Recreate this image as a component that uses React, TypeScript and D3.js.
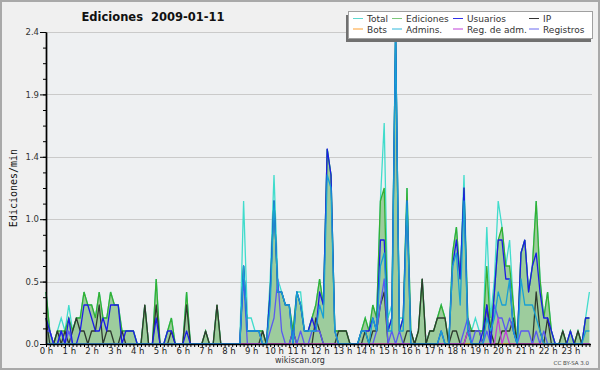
import { useEffect, useRef } from "react";
import * as d3 from "d3";

// 10-minute bins, edits per minute (144 bins = 24 h)
const total = [
  0.4, 0.1, 0, 0.1, 0.2, 0.1,
  0.3, 0.1, 0.2, 0.2, 0.4, 0.3,
  0.3, 0.2, 0.4, 0.2, 0.2, 0.4,
  0.3, 0.3, 0.1, 0.1, 0.1, 0.1,
  0, 0, 0.3, 0, 0, 0.5,
  0, 0, 0.1, 0.2, 0, 0,
  0, 0.4, 0, 0, 0, 0,
  0.1, 0, 0, 0.3, 0, 0,
  0, 0, 0, 0, 1.1, 0.2,
  0.2, 0.1, 0.1, 0.1, 0, 0.5,
  1.3, 0.5, 0.4, 0.3, 0.3, 0.1,
  0.4, 0.4, 0.1, 0.1, 0.2, 0.3,
  0.5, 0.3, 1.5, 1.3, 0.1, 0.1,
  0.1, 0.1, 0, 0, 0, 0.1,
  0.2, 0.1, 0.3, 0.2, 1.1, 1.7,
  0.2, 0.3, 2.4, 0.2, 0.2, 1.2,
  0.1, 0, 0.1, 0.5, 0, 0.1,
  0.1, 0.2, 0.3, 0.2, 0, 0.7,
  0.9, 0.5, 1.3, 0.2, 0.1, 0.2,
  0.1, 0.1, 0.9, 0.2, 0.5, 1.1,
  0.9, 0.6, 0.8, 0.3, 0, 0.7,
  0.8, 0.4, 0.6, 1.1, 0.5, 0.2,
  0.4, 0.1, 0, 0, 0.1, 0,
  0.1, 0, 0.1, 0, 0.2, 0.4,
];

const ediciones = [
  0.4, 0.1, 0, 0.1, 0.1, 0.1,
  0.2, 0.1, 0.2, 0.2, 0.4, 0.3,
  0.3, 0.2, 0.4, 0.2, 0.2, 0.4,
  0.3, 0.3, 0.1, 0.1, 0.1, 0.1,
  0, 0, 0.3, 0, 0, 0.5,
  0, 0, 0.1, 0.2, 0, 0,
  0, 0.4, 0, 0, 0, 0,
  0.1, 0, 0, 0.3, 0, 0,
  0, 0, 0, 0, 0.6, 0.1,
  0.1, 0.1, 0.1, 0.1, 0, 0.4,
  1.1, 0.4, 0.4, 0.3, 0.3, 0.1,
  0.4, 0.3, 0.1, 0.1, 0.2, 0.3,
  0.5, 0.3, 1.5, 1.3, 0.1, 0.1,
  0.1, 0.1, 0, 0, 0, 0.1,
  0.2, 0.1, 0.3, 0.2, 1.1, 1.2,
  0.1, 0.2, 2.4, 0.1, 0.2, 1.2,
  0.1, 0, 0.1, 0.5, 0, 0.1,
  0.1, 0.2, 0.3, 0.2, 0, 0.7,
  0.9, 0.5, 1.2, 0.2, 0.1, 0.1,
  0.1, 0.1, 0.6, 0.1, 0.4, 0.8,
  0.9, 0.6, 0.6, 0.3, 0, 0.7,
  0.8, 0.4, 0.6, 1.1, 0.5, 0.2,
  0.4, 0.1, 0, 0, 0.1, 0,
  0.1, 0, 0.1, 0, 0.2, 0.2,
];

const usuarios = [
  0.2, 0.1, 0, 0, 0.1, 0,
  0.2, 0, 0, 0.1, 0.3, 0.3,
  0.2, 0.1, 0.1, 0.2, 0.1, 0.3,
  0.3, 0.3, 0, 0.1, 0.1, 0.1,
  0, 0, 0, 0, 0, 0.2,
  0, 0, 0.1, 0.1, 0, 0,
  0, 0.1, 0, 0, 0, 0,
  0, 0, 0, 0, 0, 0,
  0, 0, 0, 0, 0.6, 0.1,
  0.1, 0.1, 0.1, 0, 0, 0.4,
  1.1, 0.4, 0.4, 0.3, 0.3, 0,
  0.4, 0.3, 0.1, 0.1, 0.2, 0.1,
  0.4, 0.3, 1.5, 1.3, 0.1, 0,
  0, 0, 0, 0, 0, 0.1,
  0.1, 0.1, 0.2, 0.1, 0.8, 0.8,
  0.1, 0.2, 2.4, 0.1, 0.2, 1.1,
  0, 0, 0, 0, 0, 0,
  0, 0, 0.1, 0, 0, 0.6,
  0.8, 0.5, 1.2, 0.1, 0, 0,
  0, 0.1, 0.3, 0, 0.4, 0.8,
  0.8, 0.5, 0.5, 0.1, 0, 0.7,
  0.8, 0.4, 0.6, 0.7, 0.4, 0.2,
  0.2, 0.1, 0, 0, 0, 0,
  0.1, 0, 0, 0, 0.2, 0.2,
];

const ip = [
  0.2, 0, 0, 0.1, 0, 0.1,
  0, 0.1, 0.2, 0.1, 0.1, 0,
  0.1, 0.1, 0.3, 0, 0.1, 0.1,
  0, 0, 0.1, 0, 0, 0,
  0, 0, 0.3, 0, 0, 0.3,
  0, 0, 0, 0.1, 0, 0,
  0, 0.3, 0, 0, 0, 0,
  0.1, 0, 0, 0.3, 0, 0,
  0, 0, 0, 0, 0, 0,
  0, 0, 0, 0.1, 0, 0,
  0, 0, 0, 0, 0, 0.1,
  0, 0, 0, 0, 0, 0.2,
  0.1, 0, 0, 0, 0, 0.1,
  0.1, 0.1, 0, 0, 0, 0,
  0.1, 0, 0.1, 0.1, 0.3, 0.4,
  0, 0, 0, 0, 0, 0.1,
  0.1, 0, 0.1, 0.5, 0, 0.1,
  0.1, 0.2, 0.2, 0.2, 0, 0.1,
  0.1, 0, 0, 0.1, 0.1, 0.1,
  0.1, 0, 0.3, 0.1, 0, 0,
  0.1, 0.1, 0.1, 0.2, 0, 0,
  0, 0, 0, 0.4, 0.1, 0,
  0.2, 0, 0, 0, 0.1, 0,
  0, 0, 0.1, 0, 0, 0,
];

const bots = [
  0, 0, 0, 0, 0, 0, 0, 0, 0, 0, 0, 0, 0, 0, 0, 0, 0, 0, 0, 0, 0, 0, 0, 0,
  0, 0, 0, 0, 0, 0, 0, 0, 0, 0, 0, 0, 0, 0, 0, 0, 0, 0, 0, 0, 0, 0, 0, 0,
  0, 0, 0, 0, 0, 0, 0, 0, 0, 0, 0, 0, 0, 0, 0, 0, 0, 0, 0, 0, 0, 0, 0, 0,
  0, 0, 0, 0, 0, 0, 0, 0, 0, 0, 0, 0, 0, 0, 0, 0, 0, 0, 0, 0, 0, 0, 0, 0,
  0, 0, 0, 0, 0, 0, 0, 0, 0, 0, 0, 0, 0, 0, 0, 0, 0, 0, 0, 0, 0, 0, 0, 0,
  0, 0, 0, 0, 0, 0, 0, 0, 0, 0, 0, 0, 0, 0, 0, 0, 0, 0, 0, 0, 0, 0, 0, 0,
];

const admins = [
  0, 0, 0, 0, 0, 0,
  0, 0, 0, 0, 0, 0,
  0, 0, 0, 0, 0, 0,
  0, 0, 0, 0, 0, 0,
  0, 0, 0, 0, 0, 0,
  0, 0, 0, 0, 0, 0,
  0, 0, 0, 0, 0, 0,
  0, 0, 0, 0, 0, 0,
  0, 0, 0, 0, 0.6, 0.1,
  0.1, 0.1, 0.1, 0, 0, 0.3,
  1.1, 0.4, 0.4, 0.3, 0.3, 0,
  0.4, 0.3, 0.1, 0.1, 0.1, 0.1,
  0.3, 0.2, 1.3, 1.2, 0.1, 0,
  0, 0, 0, 0, 0, 0.1,
  0.1, 0, 0.2, 0.1, 0.6, 0.7,
  0.1, 0.1, 2.4, 0.1, 0.1, 1.1,
  0, 0, 0, 0, 0, 0,
  0, 0, 0.1, 0, 0, 0.6,
  0.7, 0.3, 1.1, 0.1, 0, 0,
  0, 0, 0.2, 0.1, 0.2, 0.4,
  0.3, 0.3, 0.5, 0.1, 0, 0.5,
  0.3, 0.3, 0.3, 0.2, 0.1, 0,
  0, 0, 0, 0, 0, 0,
  0, 0, 0, 0, 0.1, 0.1,
];

const regAdm = [
  0, 0, 0, 0, 0, 0, 0, 0, 0, 0, 0, 0,
  0, 0, 0, 0, 0, 0, 0, 0, 0, 0, 0, 0,
  0, 0, 0, 0, 0, 0, 0, 0, 0, 0, 0, 0,
  0, 0, 0, 0, 0, 0, 0, 0, 0, 0, 0, 0,
  0, 0, 0, 0, 0, 0, 0, 0, 0, 0, 0, 0,
  0, 0, 0, 0, 0, 0, 0, 0, 0, 0, 0, 0,
  0, 0, 0, 0, 0, 0, 0, 0, 0, 0, 0, 0,
  0, 0, 0, 0, 0, 0, 0, 0, 0, 0, 0, 0,
  0, 0, 0, 0, 0, 0, 0, 0, 0, 0, 0, 0,
  0, 0, 0, 0.1, 0, 0, 0, 0, 0, 0, 0, 0.2,
  0, 0.1, 0, 0, 0, 0, 0, 0, 0, 0, 0, 0,
  0, 0, 0, 0, 0, 0, 0, 0, 0, 0, 0, 0,
];

const registros = [
  0.1, 0.1, 0, 0, 0.1, 0,
  0.1, 0, 0, 0, 0, 0,
  0, 0, 0, 0, 0, 0,
  0, 0, 0, 0, 0, 0,
  0, 0, 0, 0, 0, 0,
  0, 0, 0, 0, 0, 0,
  0, 0, 0, 0, 0, 0,
  0, 0, 0, 0, 0, 0,
  0, 0, 0, 0, 0.5, 0,
  0, 0, 0, 0, 0, 0.1,
  0.2, 0.5, 0.1, 0, 0, 0.1,
  0, 0.1, 0, 0, 0.1, 0.1,
  0.1, 0, 0, 0, 0, 0,
  0, 0, 0, 0, 0, 0,
  0, 0, 0, 0.1, 0.3, 0.5,
  0, 0.1, 0, 0.1, 0, 0,
  0, 0, 0, 0, 0, 0,
  0, 0, 0, 0, 0, 0,
  0, 0, 0.1, 0.2, 0, 0.1,
  0.1, 0, 0.1, 0, 0.3, 0.2,
  0.2, 0.1, 0.2, 0.1, 0, 0.1,
  0.1, 0.1, 0, 0.1, 0, 0.1,
  0, 0, 0, 0, 0, 0,
  0, 0, 0, 0, 0, 0,
];

const hourLabels = [
  "0 h", "1 h", "2 h", "3 h", "4 h", "5 h", "6 h", "7 h", "8 h", "9 h", "10 h", "11 h",
  "12 h", "13 h", "14 h", "15 h", "16 h", "17 h", "18 h", "19 h", "20 h", "21 h", "22 h", "23 h",
];

const yTicks = [0, 0.48, 0.96, 1.44, 1.92, 2.4];
const yTickLabels = ["0.0", "0.5", "1.0", "1.4", "1.9", "2.4"];

const legendItems = [
  { label: "Total", color: "#5fd8d0" },
  { label: "Ediciones", color: "#7cc87c" },
  { label: "Usuarios", color: "#3030e8" },
  { label: "IP", color: "#333333" },
  { label: "Bots", color: "#ffa030" },
  { label: "Admins.", color: "#30b8dc" },
  { label: "Reg. de adm.", color: "#c040d8" },
  { label: "Registros", color: "#6a6af0" },
];

export default function App() {
  const svgRef = useRef<SVGSVGElement | null>(null);

  useEffect(() => {
    document.body.style.margin = "0";
    if (!svgRef.current) return;
    const svg = d3.select(svgRef.current);
    svg.selectAll("*").remove();
    const width = 600;
    const height = 370;
    const left = 46;
    const right = 590;
    const top = 32;
    const bottom = 344;

    const x = d3.scaleLinear().domain([0, total.length - 1]).range([left, 589.4]);
    const y = d3.scaleLinear().domain([0, 2.4]).range([bottom, top]);

    // background + frame
    svg.append("rect")
      .attr("x", 1).attr("y", 1)
      .attr("width", width - 2).attr("height", height - 2)
      .attr("fill", "#f0f0f0")
      .attr("stroke", "#a9a9a9")
      .attr("stroke-width", 2);
    svg.append("rect")
      .attr("x", left).attr("y", top)
      .attr("width", right - left + 2).attr("height", bottom - top)
      .attr("fill", "#eef0f2");

    // grid
    svg.append("g")
      .selectAll("line")
      .data(yTicks.slice(1))
      .enter()
      .append("line")
      .attr("x1", left).attr("x2", right + 2)
      .attr("y1", (d) => Math.round(y(d)) + 0.5)
      .attr("y2", (d) => Math.round(y(d)) + 0.5)
      .attr("stroke", "#cacaca");

    const line = d3.line<number>()
      .x((_, i) => x(i))
      .y((d) => y(d));
    const area = d3.area<number>()
      .x((_, i) => x(i))
      .y0(y(0))
      .y1((d) => y(d));

    const plot = svg.append("g");
    plot.append("path").datum(total)
      .attr("d", line).attr("fill", "none")
      .attr("stroke", "#40dccc").attr("stroke-width", 1.3);
    plot.append("path").datum(ediciones)
      .attr("d", area).attr("fill", "#98c998").attr("fill-opacity", 0.95);
    plot.append("path").datum(ediciones)
      .attr("d", line).attr("fill", "none")
      .attr("stroke", "#33b033").attr("stroke-width", 1.3);
    const series: [number[], string][] = [
      [bots, "#ffa030"],
      [ip, "#2f3a2f"],
      [registros, "#5a5af0"],
      [regAdm, "#c040d8"],
      [usuarios, "#1c1ce6"],
      [admins, "#18a0d4"],
    ];
    series.forEach(([vals, color]) => {
      plot.append("path").datum(vals)
        .attr("d", line).attr("fill", "none")
        .attr("stroke", color).attr("stroke-width", 1.3)
        .attr("stroke-linejoin", "round");
    });

    // y axis
    const yAxis = svg.append("g")
      .attr("transform", `translate(${left},0)`)
      .call(
        d3.axisLeft(y)
          .tickValues(yTicks)
          .tickSize(6)
          .tickSizeOuter(0)
          .tickPadding(1)
          .tickFormat((_, i) => yTickLabels[i])
      );
    yAxis.selectAll("text")
      .attr("fill", "#333")
      .style("font-family", "DejaVu Sans")
      .style("font-size", "8.5px");
    svg.append("g")
      .attr("transform", `translate(${left},0)`)
      .call(
        d3.axisLeft(y)
          .tickValues(d3.range(0, 2.41, 0.12))
          .tickSize(3)
          .tickSizeOuter(0)
          .tickFormat(() => "")
      );

    // x axis
    const xAxis = svg.append("g")
      .attr("transform", `translate(0,${bottom})`)
      .call(
        d3.axisBottom(x)
          .tickValues(d3.range(total.length))
          .tickSize(3)
          .tickSizeOuter(0)
          .tickPadding(1)
          .tickFormat((d) => ((d as number) % 6 === 0 ? hourLabels[(d as number) / 6] : ""))
      );
    xAxis.select(".domain").attr("d", `M${left},0.5H${right + 1}`);
    xAxis.selectAll("text")
      .attr("fill", "#222")
      .style("font-family", "DejaVu Sans")
      .style("font-size", "8.5px");
    svg.selectAll(".domain").attr("stroke", "#000").attr("stroke-width", 1.4);

    // title and labels
    svg.append("text")
      .attr("x", 153).attr("y", 21)
      .attr("text-anchor", "middle")
      .style("font-family", "DejaVu Sans")
      .style("font-weight", "bold")
      .style("font-size", "11.5px")
      .style("white-space", "pre")
      .attr("fill", "#111")
      .text("Ediciones  2009-01-11");
    svg.append("text")
      .attr("transform", "translate(17,188) rotate(-90)")
      .attr("text-anchor", "middle")
      .style("font-family", "DejaVu Sans Mono")
      .style("font-size", "10px")
      .attr("fill", "#111")
      .text("Ediciones/min");
    svg.append("text")
      .attr("x", 300).attr("y", 363)
      .attr("text-anchor", "middle")
      .style("font-family", "DejaVu Sans")
      .style("font-size", "8px")
      .attr("fill", "#333")
      .text("wikiscan.org");
    svg.append("text")
      .attr("x", 589).attr("y", 365)
      .attr("text-anchor", "end")
      .style("font-family", "DejaVu Sans")
      .style("font-size", "5.5px")
      .attr("fill", "#444")
      .text("CC BY-SA 3.0");

    // legend
    const lg = svg.append("g");
    lg.append("rect")
      .attr("x", 346).attr("y", 15)
      .attr("width", 245).attr("height", 27)
      .attr("fill", "#707070");
    lg.append("rect")
      .attr("x", 348.5).attr("y", 11.5)
      .attr("width", 244).attr("height", 27)
      .attr("fill", "#fff")
      .attr("stroke", "#a0a0a0");
    const colX = [353, 392, 453, 529];
    legendItems.forEach((item, i) => {
      const cx = colX[i % 4];
      const row = Math.floor(i / 4);
      const ly = 18.5 + row * 10.5;
      lg.append("line")
        .attr("x1", cx).attr("x2", cx + 10)
        .attr("y1", ly).attr("y2", ly)
        .attr("stroke", item.color);
      lg.append("text")
        .attr("x", cx + 14).attr("y", ly + 3.5)
        .style("font-family", "DejaVu Sans")
        .style("font-size", "9px")
        .attr("fill", "#333")
        .text(item.label);
    });
  }, []);

  return <svg ref={svgRef} width={600} height={370} style={{ display: "block" }} />;
}
